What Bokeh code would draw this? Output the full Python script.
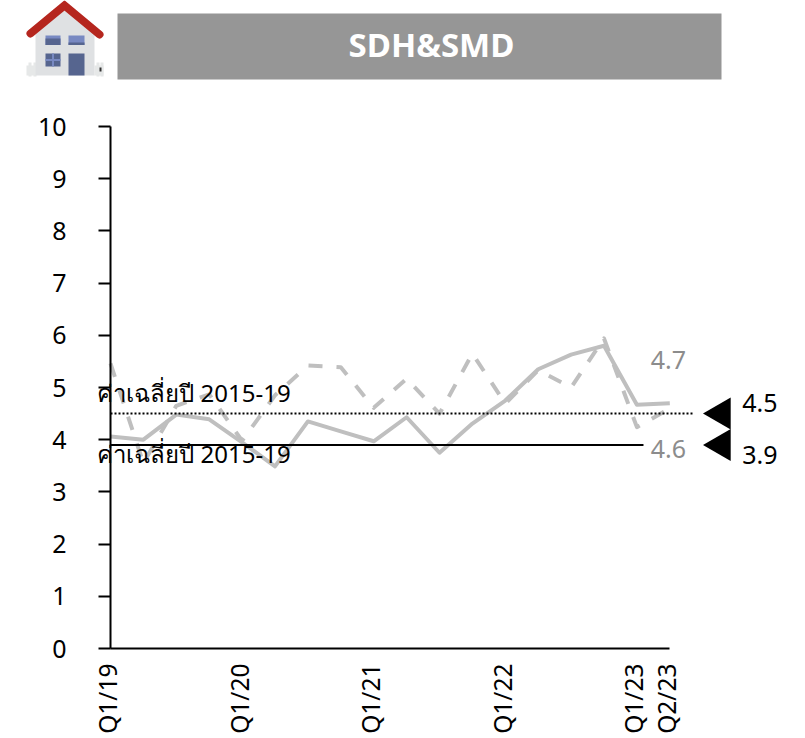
import math

from bokeh.core.properties import value
from bokeh.embed import file_html
from bokeh.models import FixedTicker, Label, LinearAxis, Range1d
from bokeh.plotting import figure
from bokeh.resources import INLINE

quarters = ["Q1/19", "Q2/19", "Q3/19", "Q4/19", "Q1/20", "Q2/20", "Q3/20", "Q4/20", "Q1/21",
            "Q2/21", "Q3/21", "Q4/21", "Q1/22", "Q2/22", "Q3/22", "Q4/22", "Q1/23", "Q2/23"]
shown_quarters = ["Q1/19", "Q1/20", "Q1/21", "Q1/22", "Q1/23", "Q2/23"]
solid_series = [4.06, 4.00, 4.48, 4.39, 3.95, 3.49, 4.35, 4.16, 3.97,
                4.43, 3.75, 4.31, 4.75, 5.35, 5.63, 5.80, 4.67, 4.70]
dashed_series = [5.46, 3.55, 4.65, 4.87, 3.98, 4.85, 5.42, 5.39, 4.61,
                 5.17, 4.50, 5.65, 4.69, 5.33, 5.00, 5.94, 4.24, 4.60]
avg_dotted = 4.5
avg_solid = 3.9
avg_label = "ค่าเฉลี่ยปี 2015-19"
title_text = "SDH&SMD"

FONT = "Noto Sans"
GREY_LINE = "#bfbfbf"
GREY_TEXT = "#8c8c8c"
X_START, X_END = -110 / 32.9, 695 / 32.9

# The frame fills the page; axes sit at fixed data positions inside it, so the
# text and side markers left and right of the axes are never clipped.
chart = figure(width=805, height=738,
               x_range=Range1d(X_START, X_END), y_range=Range1d(-90 / 52.2, 648 / 52.2),
               output_backend="svg", toolbar_location=None, min_border=0)
chart.grid.visible = False
chart.outline_line_color = None

# Second coordinate system in page pixels (y downward) for the banner and icon.
chart.extra_x_ranges["page"] = Range1d(0, 805)
chart.extra_y_ranges["page"] = Range1d(738, 0)
page_coords = dict(x_range_name="page", y_range_name="page")

chart.quad(left=117, right=721, top=13, bottom=79, fill_color="#969696", line_color=None, **page_coords)
chart.text(x=[431], y=[44], text=[title_text], text_color="white", text_align="center",
           text_baseline="middle", text_font=value(FONT), text_font_size="33px",
           text_font_style="bold", **page_coords)

# House icon
chart.quad(left=[26, 94], right=[35, 103], top=[65, 65], bottom=[75, 75],
           fill_color="#e6e8e8", line_color=None, **page_coords)
chart.quad(left=[28, 33, 96, 100], right=[31, 36, 99, 103], top=[62, 62, 62, 62],
           bottom=[76, 76, 76, 76], fill_color="#e6e8e8", line_color=None, **page_coords)
chart.patch(x=[35, 64, 94, 94, 35], y=[30, 8, 30, 75, 75], fill_color="#dfe1e3", line_color=None, **page_coords)
chart.line(x=[30, 64, 99], y=[33, 5, 34], line_color="#b5261e", line_width=8,
           line_cap="round", line_join="miter", **page_coords)
chart.quad(left=[45, 68], right=[60, 84], top=[35, 35], bottom=[44.5, 44.5],
           fill_color="#7889c2", line_color=None, **page_coords)
chart.quad(left=[45, 68], right=[60, 84], top=[38, 42], bottom=[44.5, 44.5],
           fill_color="#56658f", line_color=None, **page_coords)
chart.quad(left=[45, 68], right=[60, 84], top=[53, 53], bottom=[66, 75],
           fill_color="#56658f", line_color=None, **page_coords)
chart.line(x=[45, 60], y=[59.5, 59.5], line_color="#7889c2", line_width=2, **page_coords)
chart.line(x=[52.5, 52.5], y=[53, 66], line_color="#7889c2", line_width=2, **page_coords)
chart.quad(left=[99], right=[101], top=[67], bottom=[71], fill_color="#333333", line_color=None, **page_coords)

# Series, one x unit per quarter
positions = list(range(len(quarters)))
chart.line(positions, dashed_series, line_color=GREY_LINE, line_width=4, line_dash="14 14",
           line_join="round")
chart.line(positions, solid_series, line_color=GREY_LINE, line_width=4, line_join="round")

chart.line([0, 16.2], [avg_solid, avg_solid], line_color="black", line_width=2)
chart.line([0, 17.7], [avg_dotted, avg_dotted], line_color="black", line_width=2, line_dash="2 2")

chart.scatter([18.57, 18.57], [avg_dotted, avg_solid], marker="triangle", size=32,
              angle=math.pi / 2, fill_color="black", line_color=None)

chart.yaxis.fixed_location = 0
chart.yaxis.bounds = (0, 10)
chart.yaxis.ticker = FixedTicker(ticks=list(range(11)))
chart.yaxis.major_tick_in = 0
chart.yaxis.major_tick_out = 12
chart.yaxis.minor_tick_line_color = None
chart.yaxis.axis_line_width = 2
chart.yaxis.major_tick_line_width = 2
chart.yaxis.major_tick_line_color = "black"
chart.yaxis.axis_line_color = "black"
chart.yaxis.major_label_standoff = 32
chart.yaxis.major_label_text_font = FONT
chart.yaxis.major_label_text_font_size = "25px"
chart.yaxis.major_label_text_color = "black"

# Quarter labels hang from an axis nudged slightly left of the data scale;
# a separate tickless axis draws the baseline itself.
chart.extra_x_ranges["quarter_labels"] = Range1d(X_START + 3 / 32.9, X_END + 3 / 32.9)
label_axis = chart.xaxis[0]
label_axis.x_range_name = "quarter_labels"
label_axis.fixed_location = 0
label_axis.axis_line_color = None
label_axis.ticker = FixedTicker(ticks=[quarters.index(q) for q in shown_quarters])
label_axis.major_label_overrides = {quarters.index(q): q for q in shown_quarters}
label_axis.major_tick_line_color = None
label_axis.minor_tick_line_color = None
label_axis.major_label_orientation = math.pi / 2
label_axis.major_label_standoff = 9
label_axis.major_label_text_font = FONT
label_axis.major_label_text_font_size = "24.5px"
label_axis.major_label_text_color = "black"

baseline = LinearAxis(ticker=FixedTicker(ticks=[]), fixed_location=0, bounds=(0, 17),
                      axis_line_width=2, axis_line_color="black",
                      major_tick_line_color=None, minor_tick_line_color=None)
chart.add_layout(baseline, "below")


def add_label(text, x, y, color="black", size="25px"):
    chart.add_layout(Label(x=x, y=y, text=text, text_color=color, text_font=FONT,
                           text_font_size=size, text_baseline="alphabetic"))


add_label(avg_label, -0.4, 4.9, size="24px")
add_label(avg_label, -0.4, 3.74, size="24px")
add_label(f"{solid_series[-1]:.1f}", 16.42, 5.52, GREY_TEXT)
add_label(f"{dashed_series[-1]:.1f}", 16.42, 3.82, GREY_TEXT)
add_label(f"{avg_dotted:.1f}", 19.2, 4.71)
add_label(f"{avg_solid:.1f}", 19.2, 3.71)

open("out.html", "w").write(file_html(chart, INLINE))
